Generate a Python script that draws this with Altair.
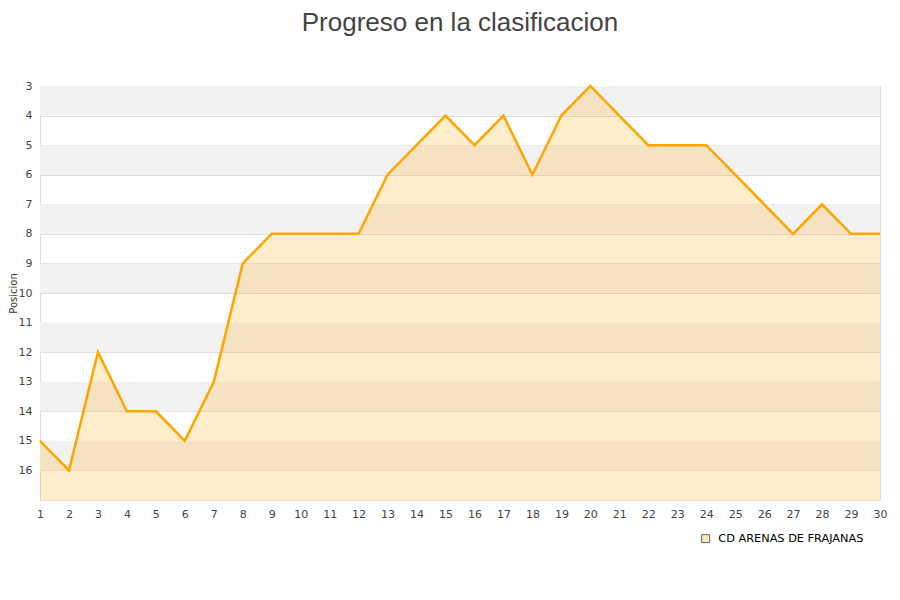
import altair as alt
import pandas as pd

jornadas = list(range(1, 31))
posiciones = [15, 16, 12, 14, 14, 15, 13, 9, 8, 8, 8, 8, 6, 5, 4, 5, 4, 6, 4, 3,
              4, 5, 5, 5, 6, 7, 8, 7, 8, 8]
equipo = "CD ARENAS DE FRAJANAS"
band_start = [3, 5, 7, 9, 11, 13, 15]
band_end = [4, 6, 8, 10, 12, 14, 16]
y_ticks = list(range(3, 17))

df = pd.DataFrame({"jornada": jornadas, "pos": posiciones, "equipo": [equipo] * len(jornadas)})
bands = pd.DataFrame({"y1": band_start, "y2": band_end})

xscale = alt.Scale(domain=[1, 30], nice=False, zero=False)
yscale = alt.Scale(domain=[3, 17], reverse=True, nice=False, zero=False)

yaxis = alt.Axis(values=y_ticks, title="Posicion", grid=True, gridColor="#DDDDDD",
                 ticks=False, domain=False, labelColor="#444", labelFontSize=11,
                 labelFont="DejaVu Sans", labelPadding=8, format="d", labelFlush=False,
                 titleFontSize=10, titleFont="DejaVu Sans", titleFontWeight="normal",
                 titleColor="#333", titleX=-24, titleBaseline="alphabetic")
xaxis = alt.Axis(values=jornadas, title=None, grid=False, ticks=False, domain=False,
                 labelColor="#444", labelFontSize=11, labelPadding=8, labelOverlap=False,
                 labelFlush=False, labelFont="DejaVu Sans", format="d")

band_layer = alt.Chart(bands).mark_rect(color="#F2F2F2").encode(
    x=alt.value(0), x2=alt.value(840),
    y=alt.Y("y1:Q", scale=yscale, axis=yaxis),
    y2="y2:Q",
)

area = alt.Chart(df).mark_area(opacity=0.2, color="#FFA500").encode(
    x=alt.X("jornada:Q", scale=xscale, axis=xaxis),
    y=alt.Y("pos:Q", scale=yscale, axis=yaxis),
    y2=alt.Y2(datum=17),
)

line = alt.Chart(df).mark_line(color="#FFA500", strokeWidth=2.5).encode(
    x=alt.X("jornada:Q", scale=xscale, axis=xaxis),
    y=alt.Y("pos:Q", scale=yscale, axis=yaxis),
)

legend_layer = alt.Chart(df).mark_square(opacity=0, size=1).encode(
    x=alt.X("jornada:Q", scale=xscale, axis=xaxis),
    y=alt.Y("pos:Q", scale=yscale, axis=yaxis),
    color=alt.Color("equipo:N", scale=alt.Scale(domain=[equipo], range=["#FFE8C0"]),
                    legend=alt.Legend(title=None, orient="none", legendX=660, legendY=447,
                                      symbolType="square", symbolSize=64,
                                      symbolStrokeColor="#666666",
                                      symbolStrokeWidth=1, symbolOpacity=1,
                                      labelFontSize=11.3, labelFont="DejaVu Sans",
                                      labelColor="#000000", labelOffset=7)),
)

chart = alt.layer(band_layer, area, line, legend_layer).properties(
    width=840, height=414,
    title=alt.TitleParams("Progreso en la clasificacion", fontSize=26, font="Liberation Sans",
                          fontWeight="normal", color="#444444", anchor="middle", offset=44),
    autosize=alt.AutoSizeParams(type="none"),
    padding={"left": 32, "top": 78, "right": 12, "bottom": 70},
).configure_view(stroke="#DDDDDD", strokeWidth=1)

chart.save("out.html", embed_options={"renderer": "svg", "actions": False})
